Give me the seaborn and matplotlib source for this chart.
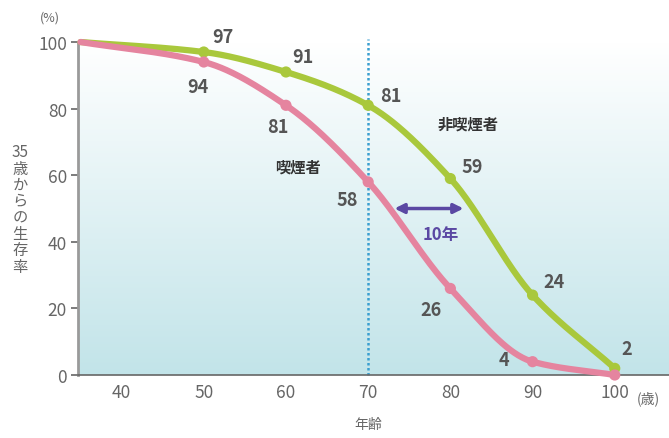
import numpy as np
import pandas as pd
import matplotlib
matplotlib.use("Agg")
import matplotlib.pyplot as plt
import seaborn as sns
from matplotlib.colors import LinearSegmentedColormap

sns.set_theme(style="white")
plt.rcParams['font.family'] = ['Noto Sans CJK JP', 'DejaVu Sans']

ages = [35, 50, 60, 70, 80, 90, 100]
smoker = [100, 94, 81, 58, 26, 4, 0]
nonsmoker = [100, 97, 91, 81, 59, 24, 2]
xticks = [40, 50, 60, 70, 80, 90, 100]
yticks = [0, 20, 40, 60, 80, 100]

GREEN = "#a9c83c"
PINK = "#e5849f"
PURPLE = "#5a48a3"
TXT = "#555555"


def pchip(x, y, xs):
    x = np.asarray(x, float); y = np.asarray(y, float)
    h = np.diff(x); d = np.diff(y) / h
    m = np.zeros_like(y)
    for k in range(1, len(x) - 1):
        if d[k - 1] * d[k] > 0:
            w1 = 2 * h[k] + h[k - 1]; w2 = h[k] + 2 * h[k - 1]
            m[k] = (w1 + w2) / (w1 / d[k - 1] + w2 / d[k])
    m[0] = d[0]; m[-1] = d[-1]
    out = np.empty_like(xs)
    for i, xv in enumerate(xs):
        k = min(np.searchsorted(x, xv, side='right') - 1, len(x) - 2)
        t = (xv - x[k]) / h[k]
        h00 = 2*t**3 - 3*t**2 + 1; h10 = t**3 - 2*t**2 + t
        h01 = -2*t**3 + 3*t**2; h11 = t**3 - t**2
        out[i] = h00*y[k] + h10*h[k]*m[k] + h01*y[k+1] + h11*h[k]*m[k+1]
    return out


fig = plt.figure(figsize=(6.69, 4.39), dpi=100)
ax = fig.add_axes([0.1166, 0.1435, 0.8834, 0.7585])
ax.set_xlim(34.7, 106.6)
ax.set_ylim(0, 100)

cmap = LinearSegmentedColormap.from_list("bg", ["#c2e4e9", "#ffffff"])
grad = np.linspace(0, 1, 256).reshape(-1, 1)
ax.imshow(grad, aspect='auto', cmap=cmap, extent=[34.7, 106.6, 0, 100],
          origin='lower', zorder=0)

ax.plot([70, 70], [0, 101], linestyle=(0, (1, 1)), color="#3a9fd0", lw=1.8,
        clip_on=False, zorder=1)

xs = np.linspace(35, 100, 400)
df = pd.DataFrame({"age": np.concatenate([xs, xs]),
                   "rate": np.concatenate([pchip(ages, nonsmoker, xs), pchip(ages, smoker, xs)]),
                   "grp": ["non"] * len(xs) + ["smk"] * len(xs)})
sns.lineplot(data=df, x="age", y="rate", hue="grp", palette={"non": GREEN, "smk": PINK},
             lw=4.5, legend=False, ax=ax, zorder=3, clip_on=False)
for l in ax.lines[1:]:
    l.set_solid_capstyle('round')
pts = pd.DataFrame({"age": ages[1:] * 2, "rate": nonsmoker[1:] + smoker[1:],
                    "grp": ["non"] * 6 + ["smk"] * 6})
sns.scatterplot(data=pts, x="age", y="rate", hue="grp", palette={"non": GREEN, "smk": PINK},
                s=65, edgecolor='none', legend=False, ax=ax, zorder=4, clip_on=False)

labs = [(52.3, 101.6, "97"), (62, 95.6, "91"), (72.7, 84, "81"), (82.7, 62.7, "59"),
        (92.6, 28, "24"), (101.4, 8, "2"), (49.3, 86.6, "94"), (59, 74.5, "81"),
        (67.4, 52.7, "58"), (77.7, 19.8, "26"), (86.5, 4.8, "4")]
for x, y, t in labs:
    ax.text(x, y, t, fontsize=13, fontweight='bold', color=TXT, ha='center', va='center',
            zorder=5, clip_on=False)

ax.text(61.5, 62.5, "喫煙者", fontsize=11, fontweight='bold', color="#333333",
        ha='center', va='center')
ax.text(82.1, 75.5, "非喫煙者", fontsize=11, fontweight='bold', color="#333333",
        ha='center', va='center')
ax.annotate("", xy=(73.2, 50), xytext=(81.6, 50),
            arrowprops=dict(arrowstyle="<|-|>", color=PURPLE, lw=2.5,
                            mutation_scale=14, shrinkA=0, shrinkB=0))
ax.text(78.8, 42.3, "10年", fontsize=12, fontweight='bold', color=PURPLE,
        ha='center', va='center')

ax.set_xticks(xticks)
ax.set_yticks(yticks)
ax.set_xticklabels([str(v) for v in xticks])
ax.tick_params(axis='both', labelsize=12.5, colors="#666666", length=5, width=1.2,
               direction='out', pad=3)
ax.tick_params(axis='x', length=0, pad=6)
ax.tick_params(axis='y', left=True)
for s in ['top', 'right']:
    ax.spines[s].set_visible(False)
ax.spines['left'].set_color("#9a9a9a")
ax.spines['left'].set_linewidth(2)
ax.spines['bottom'].set_color("#666666")
ax.spines['bottom'].set_linewidth(1.2)
ax.set_xlabel("")
ax.set_ylabel("")

fig.text(50 / 669, 1 - 18 / 439, "(%)", fontsize=9, color="#666666", ha='center', va='center')
fig.text(648 / 669, 1 - 399 / 439, "(歳)", fontsize=10, color="#666666", ha='center', va='center')
fig.text(368 / 669, 1 - 425 / 439, "年齢", fontsize=10, color="#666666", ha='center', va='center')
fig.text(20 / 669, 1 - 210 / 439, "35\n歳\nか\nら\nの\n生\n存\n率", fontsize=11,
         color="#666666", ha='center', va='center', linespacing=0.95)

fig.savefig("out.png", dpi=100)
